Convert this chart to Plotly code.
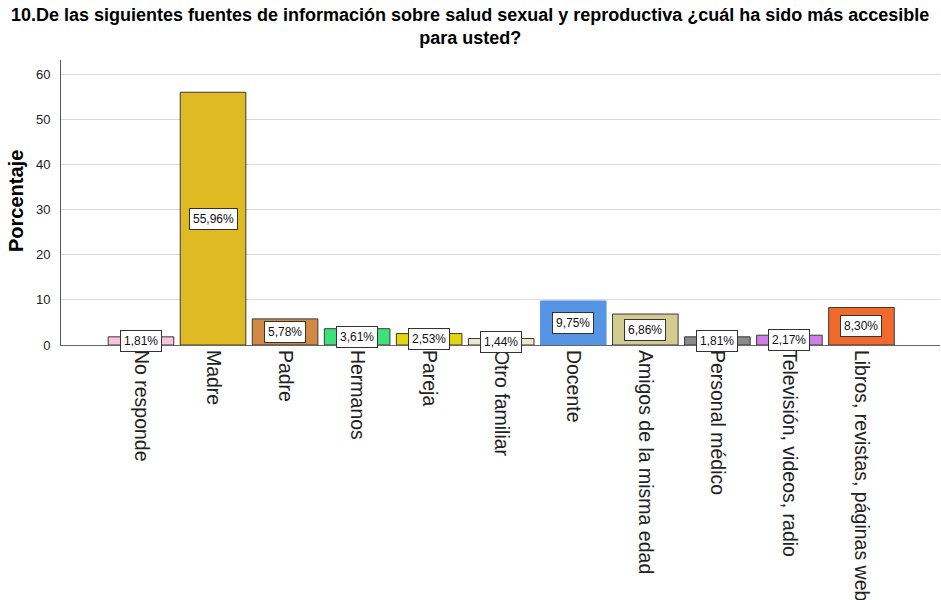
import plotly.graph_objects as go

# Survey answers: most accessible source of sexual/reproductive health information
categorias = [
    "No responde", "Madre", "Padre", "Hermanos", "Pareja", "Otro familiar",
    "Docente", "Amigos de la misma edad", "Personal médico",
    "Televisión, videos, radio", "Libros, revistas, páginas web",
]
porcentajes = [1.81, 55.96, 5.78, 3.61, 2.53, 1.44, 9.75, 6.86, 1.81, 2.17, 8.30]
colores = [
    "#FAC4DD", "#E0BA22", "#D18A44", "#3DE07B", "#E5D60B", "#EEE6CD",
    "#5595E4", "#D3CC91", "#8A8A8A", "#CE7FE7", "#F26A2B",
]
bordes = [
    "#3A3A3A", "#3A3A3A", "#3A3A3A", "#3A3A3A", "#3A3A3A", "#3A3A3A",
    "#5595E4", "#3A3A3A", "#3A3A3A", "#3A3A3A", "#3A3A3A",
]
y_ticks = [0, 10, 20, 30, 40, 50, 60]
titulo = [
    "10.De las siguientes fuentes de información sobre salud sexual y reproductiva ¿cuál ha sido más accesible",
    "para usted?",
]
titulo_eje_y = "Porcentaje"

FONT = "Liberation Sans, Arial, sans-serif"

# Plot area geometry (pixels) used to place the free-standing texts
PLOT_L, PLOT_R, PLOT_T, PLOT_B = 61, 940, 60, 345


def px_to_paper_x(px):
    return (px - PLOT_L) / (PLOT_R - PLOT_L)


def px_to_paper_y(py):
    return (PLOT_B - py) / (PLOT_B - PLOT_T)


fig = go.Figure(
    go.Bar(
        x=categorias,
        y=porcentajes,
        width=0.91,
        marker=dict(color=colores, line=dict(color=bordes, width=1)),
        hoverinfo="skip",
    )
)

# Value boxes centred halfway up each bar
for cat, val in zip(categorias, porcentajes):
    fig.add_annotation(
        x=cat,
        y=val / 2,
        text=f"{val:.2f}%".replace(".", ","),
        showarrow=False,
        font=dict(family=FONT, size=12, color="#111111"),
        bgcolor="white",
        bordercolor="#333333",
        borderwidth=1,
        borderpad=3,
    )

# Two-line bold title
fig.add_annotation(
    xref="paper", yref="paper",
    x=px_to_paper_x(470), y=px_to_paper_y(26),
    xanchor="center", yanchor="middle",
    text="<br>".join(titulo),
    showarrow=False,
    font=dict(family=FONT, size=18, color="#000000", weight="bold"),
)

# Vertical y-axis title
fig.add_annotation(
    xref="paper", yref="paper",
    x=px_to_paper_x(16), y=px_to_paper_y(201),
    xanchor="center", yanchor="middle",
    text=titulo_eje_y,
    textangle=-90,
    showarrow=False,
    font=dict(family=FONT, size=20, color="#000000", weight="bold"),
)

fig.update_layout(
    width=941,
    height=600,
    margin=dict(l=PLOT_L, r=941 - PLOT_R, t=PLOT_T, b=600 - PLOT_B),
    paper_bgcolor="white",
    plot_bgcolor="white",
    showlegend=False,
    xaxis=dict(
        range=[-1.11, 11.09],
        tickangle=90,
        tickfont=dict(family=FONT, size=19.5, color="#222222"),
        showline=True,
        linecolor="#666666",
        linewidth=1,
        showgrid=False,
        ticks="",
        automargin=False,
    ),
    yaxis=dict(
        range=[0, 63.1],
        tickvals=y_ticks,
        tickfont=dict(family=FONT, size=13, color="#222222"),
        ticklabelstandoff=7,
        showline=True,
        linecolor="#555555",
        linewidth=1,
        showgrid=True,
        gridcolor="#D9D9D9",
        gridwidth=1,
        zeroline=False,
        ticks="",
        automargin=False,
    ),
)

fig.write_html("out.html")
